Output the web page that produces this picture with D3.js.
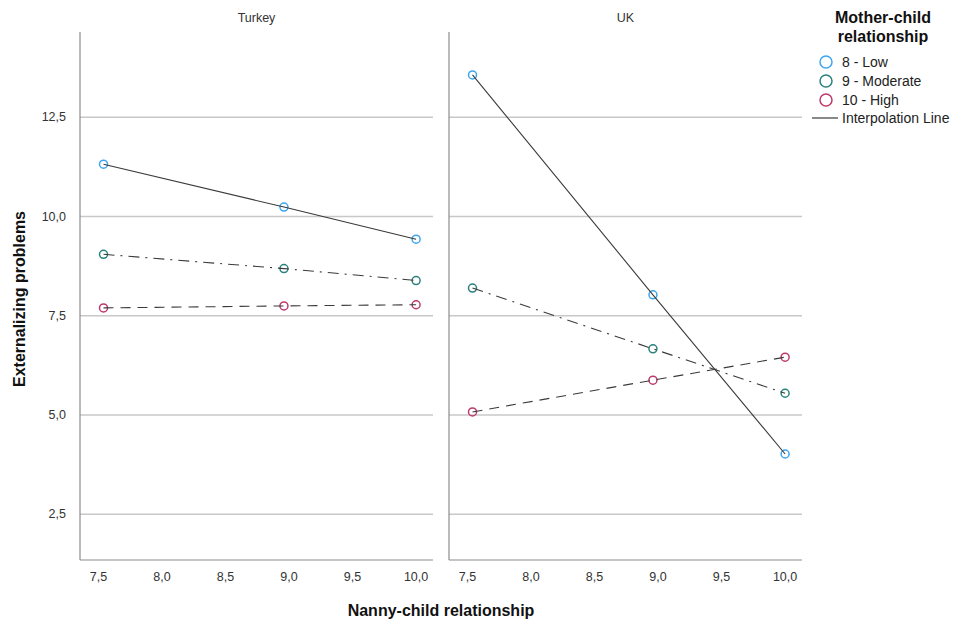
<!DOCTYPE html>
<html>
<head>
<meta charset="utf-8">
<script src="https://cdn.jsdelivr.net/npm/d3@7"></script>
<style>
  body { margin: 0; background: #fff; }
  text { font-family: "Liberation Sans", Arial, sans-serif; }
</style>
</head>
<body>
<div id="chart"></div>
<script>
// panels and groups
var panels = ["Turkey", "UK"];
var groups = ["8 - Low", "9 - Moderate", "10 - High"];
var xValues = [7.54, 8.96, 10.0];

// externalizing problems, one array per panel and group
var turkeyLow      = [11.32, 10.24, 9.43];
var turkeyModerate = [9.05, 8.69, 8.39];
var turkeyHigh     = [7.70, 7.75, 7.78];
var ukLow          = [13.57, 8.03, 4.02];
var ukModerate     = [8.20, 6.67, 5.55];
var ukHigh         = [5.08, 5.88, 6.46];

var xTicks = [7.5, 8.0, 8.5, 9.0, 9.5, 10.0];
var yTicks = [2.5, 5.0, 7.5, 10.0, 12.5];

var colors = {"8 - Low": "#3ea6ef", "9 - Moderate": "#2a827d", "10 - High": "#bd3a6c"};
var dashes = {"8 - Low": null, "9 - Moderate": "11,6,2,6", "10 - High": "10,7"};

var series = {
  "Turkey": [turkeyLow, turkeyModerate, turkeyHigh],
  "UK": [ukLow, ukModerate, ukHigh]
};

var W = 954, H = 623;
var plotTop = 32, plotBottom = 560;
var panelX = [80, 449], panelW = 353;

var svg = d3.select("#chart").append("svg")
  .attr("width", W).attr("height", H);

var y = d3.scaleLinear().domain([1.35, 14.65]).range([plotBottom, plotTop]);
var fmt = function(v) { return d3.format(".1f")(v).replace(".", ","); };

panels.forEach(function(p, i) {
  var x = d3.scaleLinear().domain([7.355, 10.133]).range([panelX[i], panelX[i] + panelW]);
  var g = svg.append("g");

  // gridlines
  g.selectAll(".grid").data(yTicks).enter().append("line")
    .attr("x1", panelX[i]).attr("x2", panelX[i] + panelW)
    .attr("y1", d => y(d)).attr("y2", d => y(d))
    .attr("stroke", "#c8c8c8").attr("stroke-width", 1.5);

  // axes frame
  g.append("line").attr("x1", panelX[i]).attr("x2", panelX[i])
    .attr("y1", plotTop).attr("y2", plotBottom).attr("stroke", "#8c8c8c").attr("stroke-width", 1.2);
  g.append("line").attr("x1", panelX[i]).attr("x2", panelX[i] + panelW)
    .attr("y1", plotBottom).attr("y2", plotBottom).attr("stroke", "#8c8c8c").attr("stroke-width", 1.2);

  // x tick labels
  g.selectAll(".xt").data(xTicks).enter().append("text")
    .attr("x", d => x(d)).attr("y", 581)
    .attr("text-anchor", "middle").attr("font-size", 12.5).attr("fill", "#333")
    .text(fmt);

  // panel title
  g.append("text").attr("x", panelX[i] + panelW / 2).attr("y", 22)
    .attr("text-anchor", "middle").attr("font-size", 12.5).attr("fill", "#333")
    .text(p);

  var line = d3.line().x((d, k) => x(xValues[k])).y(d => y(d));

  series[p].forEach(function(vals, j) {
    var grp = groups[j];
    g.selectAll(".pt" + j).data(vals).enter().append("circle")
      .attr("cx", (d, k) => x(xValues[k])).attr("cy", d => y(d))
      .attr("r", 4).attr("fill", "none")
      .attr("stroke", colors[grp]).attr("stroke-width", 1.5);
    g.append("path").datum(vals)
      .attr("d", line).attr("fill", "none")
      .attr("stroke", "#3a3a3a").attr("stroke-width", 1.1)
      .attr("stroke-dasharray", dashes[grp]);
  });
});

// y tick labels (left panel only)
svg.selectAll(".yt").data(yTicks).enter().append("text")
  .attr("x", 66).attr("y", d => y(d) + 4)
  .attr("text-anchor", "end").attr("font-size", 12.5).attr("fill", "#333")
  .text(fmt);

// axis titles
svg.append("text").attr("x", 441).attr("y", 616)
  .attr("text-anchor", "middle").attr("font-size", 16).attr("font-weight", "bold")
  .attr("fill", "#111").text("Nanny-child relationship");
svg.append("text").attr("transform", "translate(25,299) rotate(-90)")
  .attr("text-anchor", "middle").attr("font-size", 16).attr("font-weight", "bold")
  .attr("fill", "#111").text("Externalizing problems");

// legend
var lg = svg.append("g");
lg.append("text").attr("x", 883).attr("y", 23).attr("text-anchor", "middle")
  .attr("font-size", 16).attr("font-weight", "bold").attr("fill", "#111").text("Mother-child");
lg.append("text").attr("x", 883).attr("y", 42).attr("text-anchor", "middle")
  .attr("font-size", 16).attr("font-weight", "bold").attr("fill", "#111").text("relationship");

groups.forEach(function(grp, j) {
  var ly = 62 + j * 19;
  lg.append("circle").attr("cx", 826).attr("cy", ly).attr("r", 6)
    .attr("fill", "none").attr("stroke", colors[grp]).attr("stroke-width", 1.5);
  lg.append("text").attr("x", 842).attr("y", ly + 5)
    .attr("font-size", 14).attr("fill", "#222").text(grp);
});
lg.append("line").attr("x1", 812).attr("x2", 838).attr("y1", 118).attr("y2", 118)
  .attr("stroke", "#3a3a3a").attr("stroke-width", 1.2);
lg.append("text").attr("x", 842).attr("y", 123)
  .attr("font-size", 14).attr("fill", "#222").text("Interpolation Line");
</script>
</body>
</html>
